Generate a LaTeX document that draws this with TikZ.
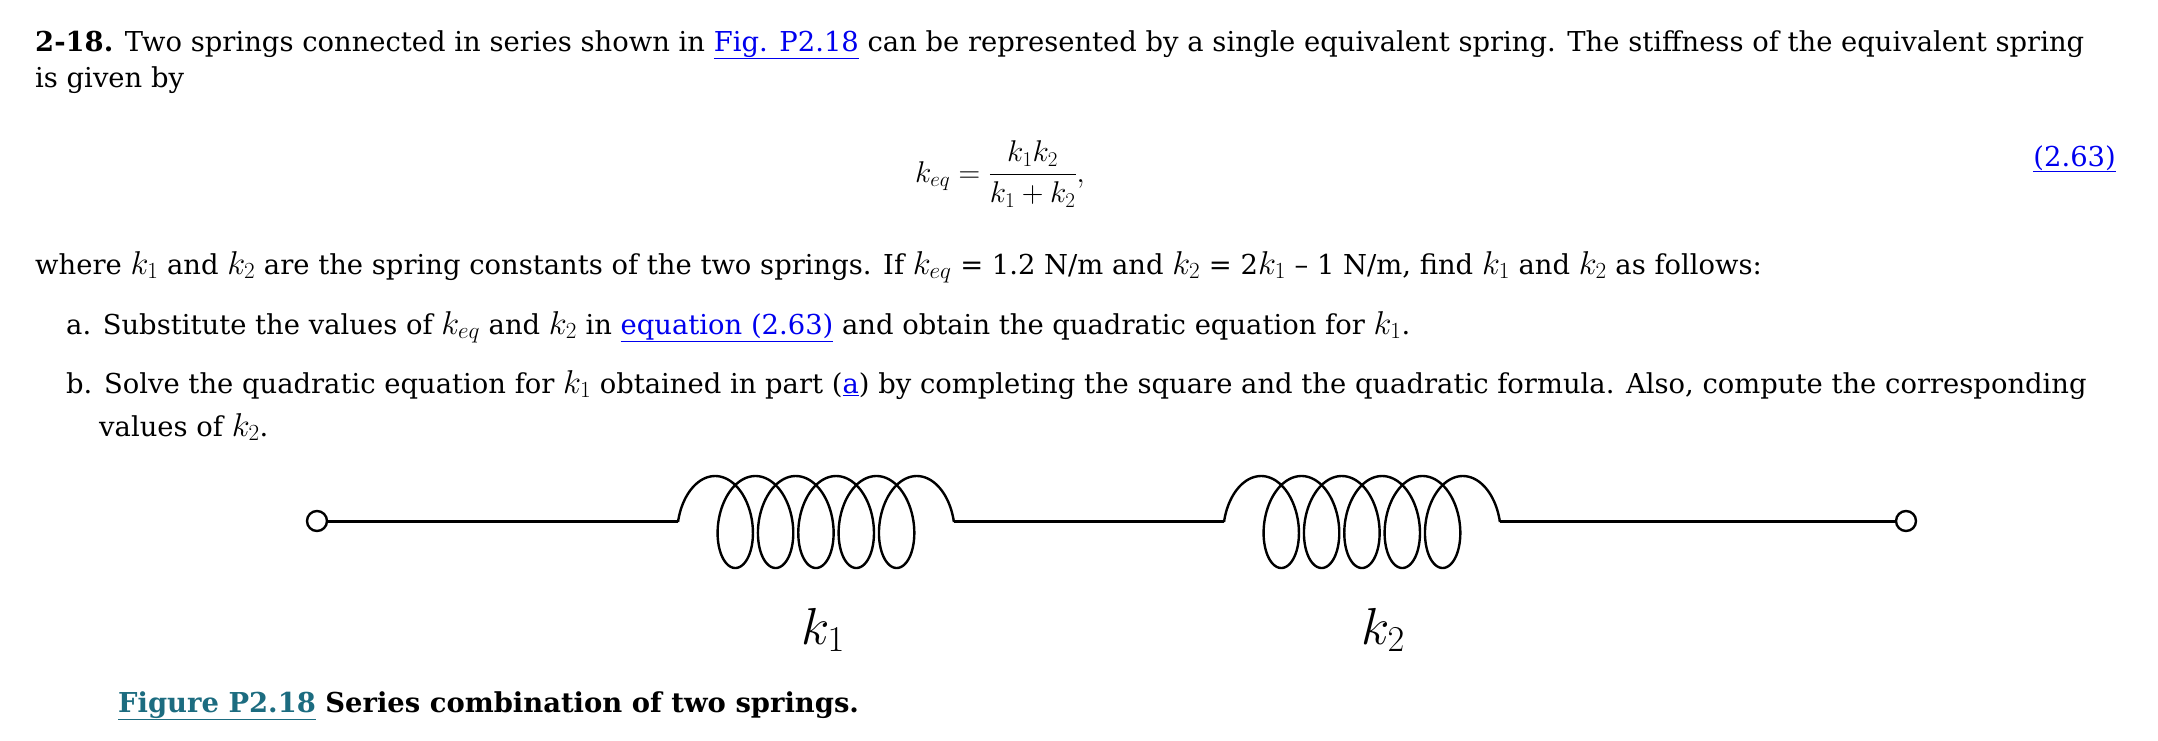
\RequirePackage{fix-cm}
\documentclass[tikz,border=0pt]{standalone}
\usepackage{fontspec}
\setmainfont{DejaVu Serif}
\definecolor{lnk}{RGB}{0,0,238}
\definecolor{teal2}{RGB}{28,108,128}
\newcommand{\lk}[1]{{\color{lnk}\underline{#1}}}
\newcommand{\mk}[1]{{\fontsize{33}{36}\selectfont$#1$}}
\begin{document}
\begin{tikzpicture}[x=1pt,y=-1pt,
  txt/.style={anchor=base west,inner sep=0pt,font=\fontsize{27.4}{32}\selectfont},
  term/.style={circle,draw,line width=2.4pt,minimum size=20pt,inner sep=0pt},
  wire/.style={line width=3pt},
  coil/.style={line width=2.4pt},
  lab/.style={font=\fontsize{52}{60}\selectfont}]
\useasboundingbox (0,0) rectangle (2158,740);
\node[txt] (l1) at (35,51) {\textbf{2-18.} Two springs connected in series shown in \lk{Fig. P2.18} can be represented by a single equivalent spring. The stiffness of the equivalent spring};
\node[txt] (l2) at (35,87) {is given by};
\node[anchor=center,inner sep=0pt,font=\fontsize{30}{34}\selectfont] (eq) at (1000,174) {$\displaystyle k_{eq}=\frac{k_1k_2}{k_1+k_2},$};
\node[txt,anchor=base east] (en) at (2116,166) {\lk{(2.63)}};
\node[txt] (l3) at (35,274) {where \mk{k_1} and \mk{k_2} are the spring constants of the two springs. If \mk{k_{eq}} = 1.2 N/m and \mk{k_2} = 2\mk{k_1} -- 1 N/m, find \mk{k_1} and \mk{k_2} as follows:};
\node[txt] (la) at (66,334) {a. Substitute the values of \mk{k_{eq}} and \mk{k_2} in \lk{equation (2.63)} and obtain the quadratic equation for \mk{k_1}.};
\node[txt] (lb) at (66,393) {b. Solve the quadratic equation for \mk{k_1} obtained in part (\lk{a}) by completing the square and the quadratic formula. Also, compute the corresponding};
\node[txt] (lb2) at (99,436) {values of \mk{k_2}.};
% spring figure
\node[term] (L) at (317,521) {};
\node[term] (R) at (1906,521) {};
\coordinate (s1a) at (678,521);
\coordinate (s1b) at (954,521);
\coordinate (s2a) at (1224,521);
\coordinate (s2b) at (1500,521);
\draw[wire] (L) -- (s1a);
\draw[wire] (s1b) -- (s2a);
\draw[wire] (s2b) -- (R);
\draw[coil] plot[domain=-90:1890,samples=500,variable=\t] ({715.1+0.11206*\t+27*sin(\t)},{522-46*cos(\t)});
\draw[coil] plot[domain=-90:1890,samples=500,variable=\t] ({1261.1+0.11206*\t+27*sin(\t)},{522-46*cos(\t)});
\node[lab] (k1) at (823,630) {$k_1$};
\node[lab] (k2) at (1383,630) {$k_2$};
\node[txt] (cap) at (118,712) {\textbf{{\color{teal2}\underline{Figure P2.18}} Series combination of two springs.}};
\end{tikzpicture}
\end{document}
